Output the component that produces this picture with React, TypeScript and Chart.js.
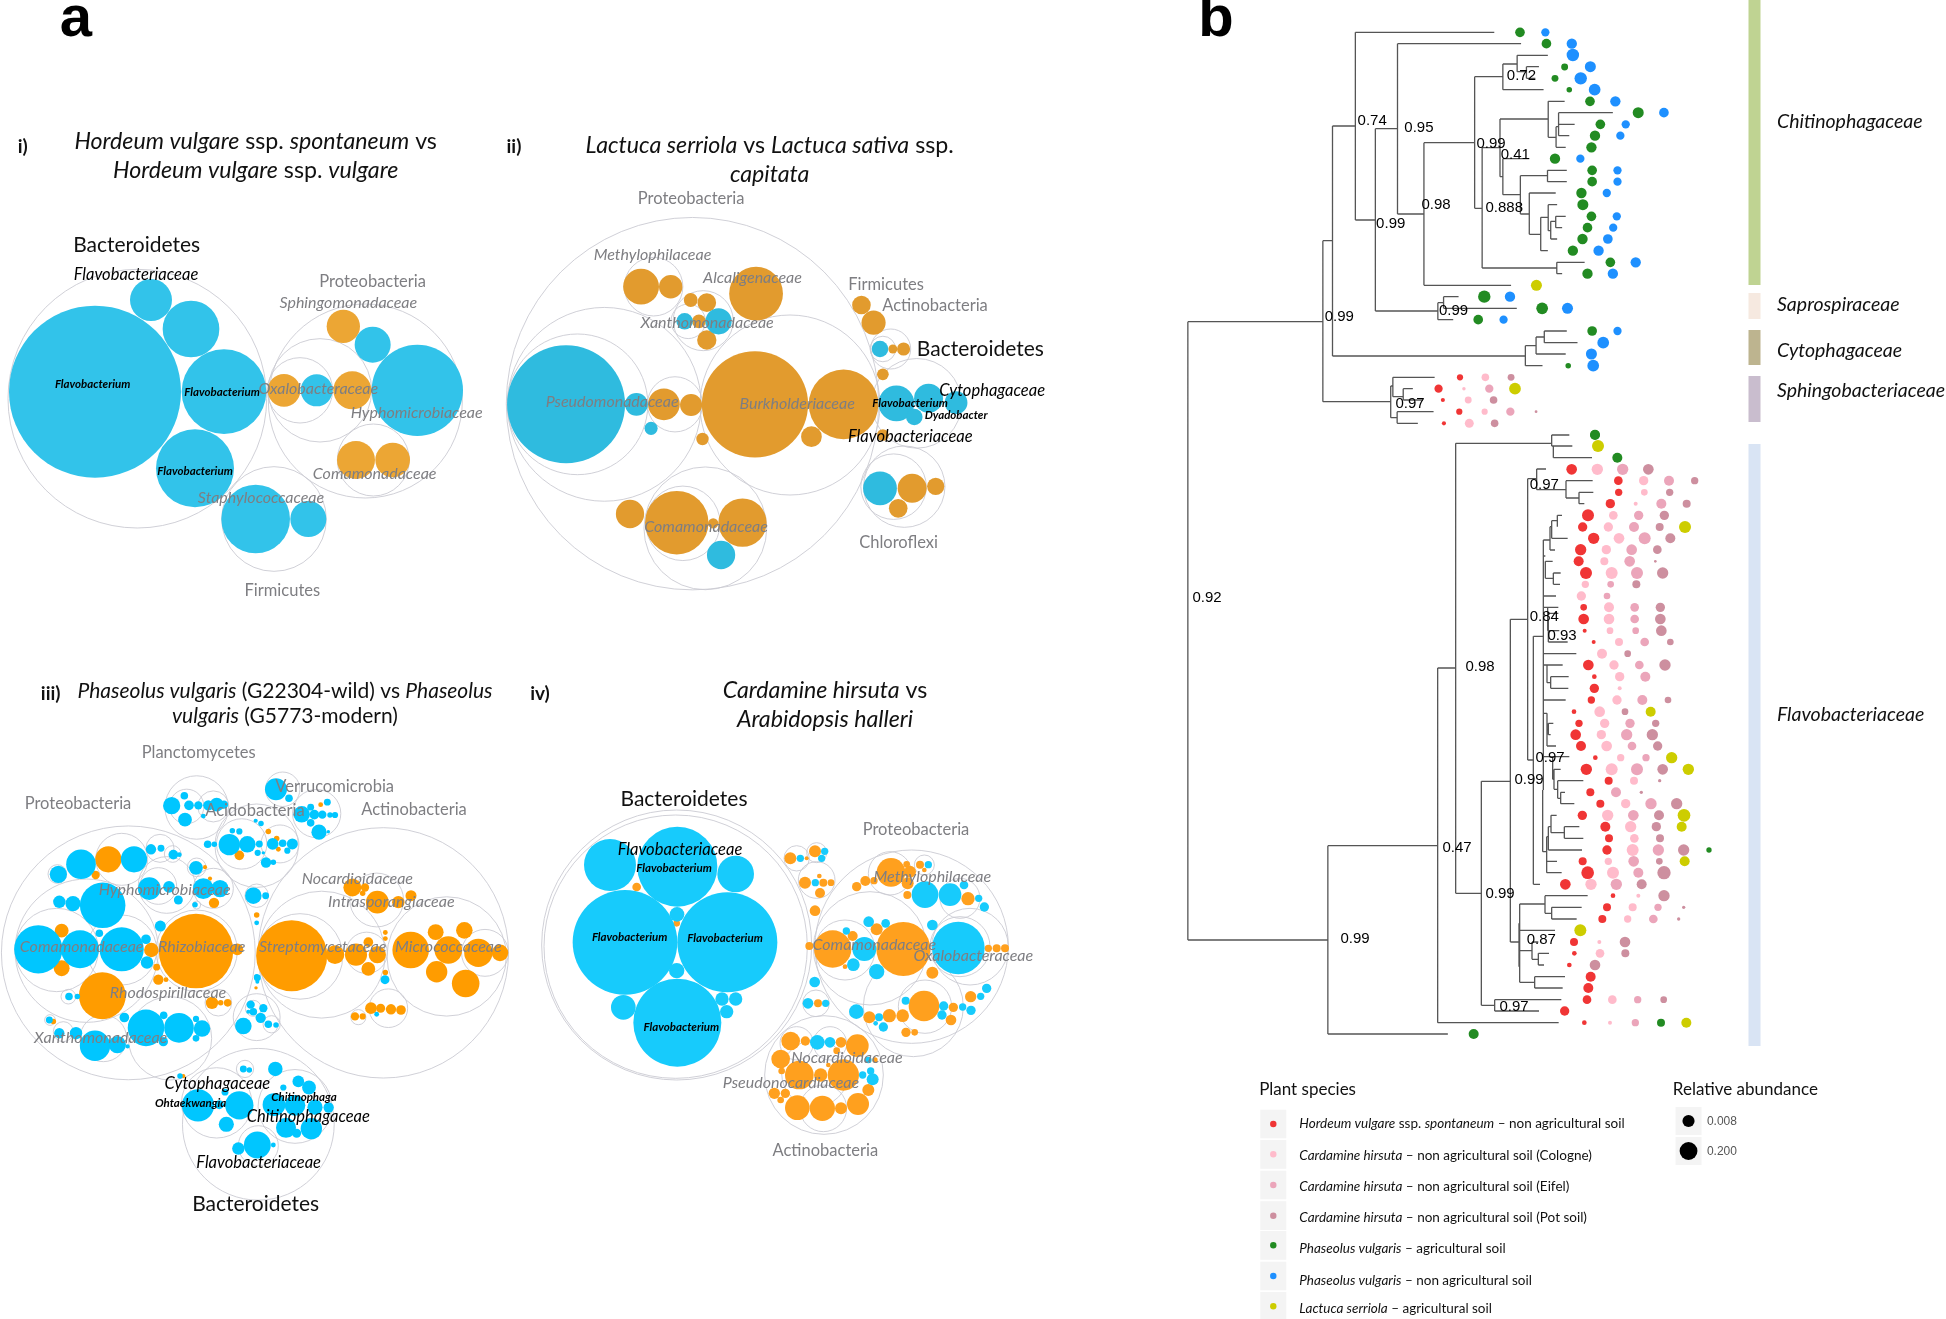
import React, { useEffect, useRef } from "react";
import { Chart, registerables } from "chart.js";

Chart.register(...registerables);

type Dot = [number, number, number];
type Part = string | [string, boolean];

// origin x, origin y, units per pixel in x, in y, for radii
const spaces: Record<string, [number, number, number, number, number]> = {
  p1: [0, 100, 3, 3, 3], p2: [490, 120, 2.8, 3, 2.9], p3: [0, 660, 3, 2.8, 2.9], q: [0, 780, 3, 3, 3], p4: [530, 660, 3, 3, 3],
  t: [1180, 0, 2.8, 3, 2.9], f: [1400, 430, 3, 3, 3], l: [1240, 1062, 2.613, 3, 2.8], full: [0, 0, 1, 1, 1],
};

// Panel i
const p1Blue: Dot[] = [[285,875,258],[453,600,63],[573,687,85],[672,875,127],[585,1105,117],[767,1257,103],[925,1257,54],[1118,734,54],[1252,871,137],[950,871,48]];
const p1Orange: Dot[] = [[1030,679,50],[852,871,49],[1057,871,57],[1068,1080,57],[1178,1080,52]];
const p1Ring: Dot[] = [[412,896,388],[1096,903,291],[960,871,155],[900,871,98],[1120,1080,108],[822,1257,157]];

// Panel ii
const p2Blue: Dot[] = [[213,853,171],[410,853,33],[451,925,19],[545,604,24],[640,604,38],[1092,687,24],[1138,850,52],[1228,835,42],[1305,848,33],[1188,891,24],[1092,1105,49],[647,1305,41]];
const p2Orange: Dot[] = [[423,500,52],[506,500,34],[562,540,20],[607,548,27],[745,521,78],[585,604,20],[607,660,28],[487,853,46],[563,855,32],[742,853,154],[990,853,101],[900,950,30],[595,957,18],[1040,555,27],[1074,608,35],[1128,687,13],[1158,687,19],[1100,763,17],[1100,945,17],[392,1182,41],[523,1208,92],[707,1208,70],[625,1210,15],[1182,1105,42],[1248,1099,25],[1143,1165,27]];
const p2Ring: Dot[] = [[567,851,540],[320,853,281],[245,853,204],[518,853,80],[840,855,261],[458,500,85],[597,602,87],[555,604,50],[603,1225,178],[540,1210,108],[1122,687,58],[1100,687,37],[1195,850,130],[1160,1100,118],[1130,1100,95]];

// Panel iii
const p3Blue: Dot[] = [[175,600,25],[243,572,43],[402,558,38],[453,530,15],[483,527,10],[520,545,14],[538,545,7],[588,582,20],[178,677,18],[219,682,22],[308,687,66],[448,640,33],[507,635,17],[535,672,13],[610,640,30],[660,640,25],[585,685,8],[115,810,70],[240,810,55],[365,810,64],[298,765,11],[438,782,14],[441,847,18],[207,942,11],[232,942,8],[438,1030,53],[537,1030,43],[606,1032,24],[373,1001,14],[491,995,11],[588,1005,9],[148,1008,10],[178,1045,15],[228,1045,18],[285,1080,44],[352,1077,25],[383,1082,6],[481,745,16],[760,660,24],[797,660,10],[515,408,25],[567,407,14],[595,407,12],[553,380,11],[555,447,20],[625,407,15],[650,405,20],[672,405,12],[610,437,7],[828,362,32],[867,387,11],[932,412,10],[982,398,10],[905,432,24],[943,433,14],[967,433,12],[990,434,8],[1005,434,9],[932,456,11],[957,482,22],[985,481,5],[623,516,11],[643,516,8],[688,517,31],[742,516,24],[718,480,9],[697,478,8],[778,515,10],[818,515,17],[848,513,11],[877,515,16],[773,540,9],[862,534,9],[798,567,15],[820,566,8],[783,458,8],[767,450,6],[790,540,5],[770,736,7],[772,890,10],[1155,895,13],[1130,992,7],[752,965,12],[760,985,11],[790,975,12],[782,1002,15],[805,1020,11],[828,1022,8],[730,1025,24],[745,985,6],[730,1145,10],[748,1148,8],[826,1145,21],[594,1247,47],[718,1247,41],[658,1245,13],[679,1300,22],[675,1210,10],[822,1245,33],[885,1247,30],[858,1310,29],[934,1312,31],[945,1252,22],[986,1253,15],[895,1180,17],[927,1197,20],[850,1197,9],[890,1325,13],[772,1358,39],[715,1368,18],[820,1358,7],[540,1165,8]];
const p3BlueLower: Dot[] = [[490,785,14],[588,775,10],[770,590,8],[772,605,6]];
const p3Orange: Dot[] = [[325,558,38],[287,602,12],[185,758,20],[185,863,23],[454,812,21],[307,940,68],[588,815,108],[642,680,15],[475,895,15],[498,895,7],[712,810,17],[636,960,18],[662,960,8],[683,960,11],[160,1012,8],[770,714,8],[615,580,6],[630,612,6],[718,547,14],[835,530,7],[805,480,8],[830,500,8],[1057,637,26],[1095,637,12],[1088,653,8],[1132,678,33],[1195,678,18],[1233,660,16],[875,828,103],[1005,825,27],[1068,825,32],[1105,790,14],[1132,825,25],[1105,865,20],[1156,763,7],[1156,780,7],[1156,875,8],[1232,812,53],[1345,812,40],[1307,762,23],[1393,757,24],[1310,873,31],[1397,906,40],[1435,820,41],[1500,820,24],[1113,975,17],[1142,975,13],[1173,978,15],[1203,980,14],[1065,998,12],[1088,998,9],[768,918,5],[962,405,7],[470,860,10],[550,1165,6]];
const p3Ring: Dot[] = [[385,820,368],[1150,820,363],[965,825,184],[900,830,124],[1340,830,173],[1455,820,68],[1100,820,60],[1130,672,78],[1165,975,56],[1075,1000,22],[590,413,92],[560,410,50],[640,410,45],[848,362,50],[950,430,70],[770,520,121],[725,515,73],[840,515,55],[770,1000,68],[775,1300,220],[650,1240,102],[885,1250,107],[775,1360,58],[770,660,34],[735,1145,25],[815,1020,25]];
const p3RingLower: Dot[] = [[260,512,215],[170,510,125],[365,510,105],[365,238,78],[480,205,42],[518,222,25],[172,282,28],[500,315,85],[475,318,55],[640,325,60],[590,512,122],[510,775,125],[310,775,70],[205,650,22],[655,668,40],[590,262,28],[590,375,12],[150,720,16],[190,755,30],[760,685,24]];

// Panel iv
const p4Blue: Dot[] = [[240,615,78],[442,620,120],[617,642,55],[285,847,157],[592,847,150],[441,763,22],[440,932,23],[442,1088,132],[280,1042,37],[576,1017,20],[617,1017,20],[590,1055,20],[811,595,11],[884,574,11],[875,595,11],[856,668,11],[854,966,16],[834,1030,16],[887,1030,11],[1185,704,40],[1260,704,34],[1195,614,11],[1302,675,13],[1346,715,11],[1363,741,14],[1016,785,16],[1067,790,13],[949,813,11],[1003,867,36],[970,914,19],[1040,935,23],[1207,795,16],[1285,864,79],[979,1055,22],[1047,1072,12],[1037,1090,7],[1060,1101,14],[1127,1022,12],[1241,1038,14],[1236,1065,14],[1298,1041,11],[1323,1051,14],[1352,1009,11],[1370,985,14],[862,1147,22],[900,1147,16],[1028,1258,18],[1022,1233,11],[998,1245,11],[1015,1200,10]];
const p4Orange: Dot[] = [[320,681,13],[440,790,10],[781,595,18],[855,574,18],[830,595,6],[825,668,18],[880,668,12],[903,668,10],[868,648,7],[870,699,15],[855,752,16],[838,858,12],[864,1030,12],[1083,637,43],[1130,613,10],[1170,614,12],[1183,630,7],[1133,670,18],[1140,635,18],[1032,662,11],[1006,663,15],[980,680,14],[1132,705,12],[1314,716,20],[908,867,56],[968,828,15],[1040,808,18],[945,920,7],[1120,867,81],[1207,938,18],[1375,865,11],[1400,865,12],[1425,865,12],[1182,1038,46],[1322,1010,17],[1270,1042,14],[1263,1080,16],[1118,1067,19],[1078,1067,20],[1018,1072,18],[1128,1117,14],[1154,1117,10],[782,1143,28],[826,1143,14],[933,1147,16],[982,1157,34],[752,1197,28],[920,1172,10],[808,1245,43],[872,1245,20],[940,1245,47],[895,1215,7],[755,1233,10],[733,1300,17],[766,1300,14],[752,1320,10],[802,1343,37],[877,1345,38],[933,1345,18],[984,1332,33],[1015,1290,18],[1035,1200,8]];
const p4Ring: Dot[] = [[437,860,395],[440,855,405],[800,595,38],[860,578,30],[860,660,55],[858,1030,40],[1145,860,290],[1020,865,170],[945,870,90],[1320,860,115],[1290,860,90],[1150,1040,150],[1185,1040,80],[1080,640,65],[1183,615,30],[1290,715,60],[882,1245,178],[800,1150,50],[900,1150,50],[855,1240,100],[880,1345,70]];

// Tree tips, upper clades
const topGreen: Dot[] = [[952,97,14],[1026,131,14],[1077,201,10],[1050,235,10],[1090,269,8],[1148,304,14],[1283,338,16],[1177,373,14],[1162,407,15],[1152,442,15],[1050,476,15],[1154,511,14],[1154,545,14],[1124,579,15],[1128,614,16],[1152,649,14],[1141,683,14],[1127,717,15],[1100,752,15],[1205,787,14],[1141,821,15],[852,890,18],[1014,925,17],[835,959,14],[1154,993,14],[1087,1097,8],[1162,1304,14]];
const topBlue: Dot[] = [[1023,97,12],[1097,131,15],[1100,165,18],[1149,200,16],[1122,235,18],[1161,269,17],[1219,304,15],[1355,338,14],[1248,373,12],[1233,407,12],[1121,476,12],[1225,511,12],[1225,545,12],[1195,579,12],[1223,649,12],[1213,683,12],[1198,717,14],[1172,752,15],[1276,787,15],[1212,821,15],[924,890,15],[1085,925,16],[906,959,12],[1225,993,12],[1185,1028,17],[1152,1062,16],[1157,1097,17]];
const topYellow: Dot[] = [[998,856,16],[938,1166,17]];
const topRed: Dot[] = [[784,1132,9],[724,1166,12],[736,1200,6],[782,1235,9],[739,1270,6]];
const topPink: Dot[] = [[855,1132,11],[795,1166,5],[807,1200,10],[853,1235,9],[810,1270,13]];
const topEifel: Dot[] = [[866,1166,12],[925,1235,12]];
const topPot: Dot[] = [[927,1132,10],[878,1200,11],[881,1270,11],[997,1235,4]];

// Tree tips, Flavobacteriaceae
const flavoRed: Dot[] = [[515,118,16],[655,152,13],[656,187,11],[631,221,14],[564,256,18],[548,291,14],[581,325,17],[542,359,17],[536,394,15],[558,429,18],[551,532,10],[551,567,16],[554,602,6],[581,636,6],[565,705,16],[583,740,7],[583,775,14],[574,810,11],[522,845,7],[537,880,11],[527,914,16],[543,948,15],[586,983,7],[559,1018,17],[626,1052,12],[571,1087,12],[601,1121,12],[547,1156,14],[616,1190,15],[627,1225,12],[621,1260,14],[548,1294,12],[563,1328,19],[496,1363,16],[639,1397,7],[621,1432,12],[607,1467,12],[522,1536,12],[523,1570,7],[508,1605,7],[572,1640,15],[565,1674,15],[561,1709,13],[494,1743,14],[553,1778,7]];
const flavoPink: Dot[] = [[592,118,17],[731,152,14],[733,187,10],[707,221,6],[640,256,13],[625,291,14],[657,325,16],[619,359,14],[613,394,12],[635,429,18],[556,463,11],[544,498,14],[627,532,15],[627,567,16],[630,602,10],[657,636,12],[606,671,15],[642,705,14],[659,740,14],[659,775,6],[651,810,14],[599,845,16],[614,880,14],[604,914,14],[620,948,16],[662,983,11],[635,1018,18],[702,1052,12],[677,1121,14],[623,1156,17],[692,1190,17],[703,1225,13],[698,1260,18],[625,1294,11],[639,1328,18],[573,1363,17],[715,1397,6],[698,1432,12],[683,1467,11],[598,1536,6],[600,1570,13],[637,1709,13],[630,1778,6]];
const flavoEifel: Dot[] = [[668,118,17],[807,152,15],[784,221,15],[716,256,14],[702,291,15],[734,325,18],[695,359,16],[689,394,16],[711,429,18],[632,463,10],[621,498,10],[704,532,13],[704,567,13],[707,602,10],[734,636,13],[718,705,13],[736,740,15],[727,810,15],[690,880,14],[680,914,17],[696,948,13],[738,983,11],[711,1018,18],[648,1087,15],[753,1121,17],[700,1156,16],[775,1260,17],[701,1294,16],[715,1328,15],[649,1363,17],[774,1432,11],[760,1467,13],[713,1709,11],[706,1778,11]];
const flavoPot: Dot[] = [[745,118,16],[884,152,11],[809,187,11],[860,221,12],[793,256,14],[779,291,12],[811,325,15],[772,359,13],[766,394,4],[788,429,17],[709,463,12],[781,532,14],[781,567,16],[784,602,16],[811,636,10],[683,671,10],[795,705,17],[804,810,10],[675,845,10],[767,880,11],[757,914,17],[773,948,14],[788,1018,16],[779,1052,5],[724,1087,5],[830,1121,17],[777,1156,15],[769,1190,14],[780,1225,12],[851,1260,17],[778,1294,10],[792,1328,20],[725,1363,15],[792,1397,17],[851,1432,5],[836,1467,5],[675,1536,16],[676,1570,12],[585,1605,16],[791,1709,10]];
const flavoYellow: Dot[] = [[594,48,18],[855,291,18],[752,845,15],[815,983,17],[865,1018,17],[852,1156,19],[845,1190,15],[854,1294,15],[541,1501,18],[859,1778,15]];
const flavoGreen: Dot[] = [[585,15,15],[652,83,15],[927,1260,8],[783,1778,12],[221,1812,15]];

// Tree branches: [x of the node, [y of a child, x where the child's branch ends], ...]
type Node = [number, ...[number, number][]];
const upperNodes: Node[] = [
  [22,[965,400],[2820,414]],[414,[2537,722],[3102,750]],
  [400,[722,427],[1205,590]],[427,[378,491],[1068,967]],[491,[97,880],[660,547]],[547,[386,609],[933,722]],
  [609,[131,955],[642,683]],[683,[428,825],[856,927]],[825,[230,904],[625,846]],[846,[443,896],[804,1055]],
  [904,[192,944],[269,1018]],[944,[166,1030],[215,970]],[970,[200,1005],[235,995]],[896,[357,1031],[530,904]],
  [1031,[304,1077],[412,1053]],[1053,[380,1060],[442,1080]],[1060,[338,1212],[373,1105],[407,1090]],
  [904,[476,978],[584,953]],[953,[527,1029],[642,978]],[1029,[511,1083],[545,1083]],[978,[579,1052],[703,1010]],
  [1010,[652,1031],[752,1030]],[1031,[614,1056],[692,1038]],[1038,[664,1052],[717,1056]],[1052,[649,1080],[683,1070]],
  [1055,[787,1133],[821,1070]],[722,[908,738],[959,765]],[738,[890,780],[925,943]],[967,[1037,997],[1097,1015]],
  [997,[1011,1020],[1062,1080]],[1020,[993,1083],[1028,1113]],[590,[1158,596],[1253,608]],[596,[1132,713],[1190,625]],
  [625,[1166,652],[1200,680]],[608,[1235,710],[1270,666]],
];
const flavoNodes: Node[] = [
  [113,[714,167],[1778,476]],[167,[40,455],[1390,244]],[455,[15,508],[48,517]],[460,[48,460],[83,576]],
  [244,[1054,331],[1726,284]],[331,[568,383],[1536,357]],[383,[146,410],[990,400]],[410,[117,438],[179,498]],
  [498,[152,578],[204,537]],[537,[187,580],[221,553]],[400,[619,430],[1363,420]],
  [430,[330,450],[378,436],[498,468],[532,443],[671,529],[705,441],[810,497],[850,441],[980,458],[1080,428]],
  [450,[290,455],[360,465]],[455,[272,472],[325,503]],[472,[256,486],[290,472]],[436,[394,458],[445,460]],
  [443,[532,475],[550,475],[602,478]],[445,[570,445],[636,503]],[460,[429,482],[463,480]],[441,[705,488],[758,452]],
  [452,[740,506],[775,505]],[441,[850,441],[900,445],[948,468]],[445,[880,460],[914,452]],
  [458,[980,508],[1048,462]],[462,[1018,482],[1078,473]],[473,[1052,550],[1105,482]],[482,[1087,495],[1121,523]],
  [428,[1080,428],[1265,440]],[440,[1220,445],[1294,471],[1328,485]],[445,[1190,453],[1260,546]],[453,[1156,470],[1208,493]],
  [493,[1190,538],[1225,550]],[359,[1422,435],[1501,465],[1562,396],[1657,404]],[357,[1480,359],[1610,357]],
  [435,[1397,563],[1450,455]],[455,[1432,545],[1467,530]],[396,[1536,415],[1588,415]],[415,[1570,447],[1605,432]],
  [404,[1640,495],[1674,488]],[284,[1709,484],[1743,417]],
];

// Family strips beside the tree
const familyNames = ["Chitinophagaceae", "Saprospiraceae", "Cytophagaceae", "Sphingobacteriaceae", "Flavobacteriaceae"];
const familyTop = [0, 293, 330, 376, 444];
const familyBottom = [285, 319, 365, 422, 1046];
const familyLabelY = [121, 304, 350, 390, 714];
const familyColors = ["#BFD392", "#F6E9E0", "#BDB48F", "#C9BDCE", "#D9E4F4"];

// Legend
const legendKeyY = [186, 277, 369, 461, 550, 642, 733];
const legendTextY = [181, 278, 371, 464, 558, 652, 738];
const legendColors = ["#F03535", "#FFBBCB", "#EBA5BA", "#CD8F9F", "#228B22", "#1E90FF", "#CDCD00"];
const legendText: Part[][] = [
  [["Hordeum vulgare", true], " ssp. ", ["spontaneum", true], " – non agricultural soil"],
  [["Cardamine hirsuta", true], " – non agricultural soil (Cologne)"],
  [["Cardamine hirsuta", true], " – non agricultural soil (Eifel)"],
  [["Cardamine hirsuta", true], " – non agricultural soil (Pot soil)"],
  [["Phaseolus vulgaris", true], " – agricultural soil"],
  [["Phaseolus vulgaris", true], " – non agricultural soil"],
  [["Lactuca serriola", true], " – agricultural soil"],
];
const abundanceKeys: Dot[] = [[1172,177,17],[1172,267,25]];
const abundanceLabels = ["0.008", "0.200"];

type Style = { font: string; color: string; align?: CanvasTextAlign; base?: CanvasTextBaseline };
const GRAY = "#7E7E82";
const styles: Record<string, Style> = {
  letter: { font: "bold 58px 'Liberation Sans'", color: "#000", base: "alphabetic" },
  roman: { font: "bold 19px Lato", color: "#111" },
  title: { font: "23.2px Lato", color: "#111" },
  titleWide: { font: "21px Lato", color: "#111" },
  phyBlack: { font: "21px Lato", color: "#111" },
  phyGray: { font: "16.5px Lato", color: GRAY },
  famGray: { font: "16px Lato", color: GRAY },
  famBlack: { font: "16.5px Lato", color: "#000" },
  genus: { font: "bold 11.5px Lato", color: "#000" },
  support: { font: "15px 'Liberation Sans'", color: "#000" },
  strip: { font: "19.5px Lato", color: "#111", align: "left" },
  head: { font: "17px Lato", color: "#111", align: "left" },
  leg: { font: "13.5px Lato", color: "#111", align: "left" },
  abund: { font: "12px 'Liberation Sans'", color: "#555", align: "left" },
};
type Lab = [string, string, number, number, Part[]];
const it = (s: string): Part[] => [[s, true]];

const panelLabels: Lab[] = [
  ["letter","full",76,36,["a"]],["letter","full",1216,36,["b"]],
  ["roman","p1",68,137,["i)"]],
  ["title","p1",767,123,[["Hordeum vulgare",true]," ssp. ",["spontaneum",true]," vs"]],
  ["title","p1",767,210,[["Hordeum vulgare",true]," ssp. ",["vulgare",true]]],
  ["phyBlack","p1",410,432,["Bacteroidetes"]],["famBlack","p1",408,520,it("Flavobacteriaceae")],
  ["phyGray","p1",1118,543,["Proteobacteria"]],["famGray","p1",1045,607,it("Sphingomonadaceae")],
  ["genus","p1",278,851,it("Flavobacterium")],["genus","p1",666,873,it("Flavobacterium")],["genus","p1",585,1111,it("Flavobacterium")],
  ["famGray","p1",955,865,it("Oxalobacteraceae")],["famGray","p1",1250,937,it("Hyphomicrobiaceae")],["famGray","p1",1124,1120,it("Comamonadaceae")],
  ["famGray","p1",783,1192,it("Staphylococcaceae")],["phyGray","p1",847,1470,["Firmicutes"]],

  ["roman","p2",67,77,["ii)"]],
  ["title","p2",783,75,[["Lactuca serriola",true]," vs ",["Lactuca sativa",true]," ssp."]],
  ["title","p2",783,162,it("capitata")],
  ["phyGray","p2",563,234,["Proteobacteria"]],["famGray","p2",455,401,it("Methylophilaceae")],["famGray","p2",735,470,it("Alcaligenaceae")],
  ["phyGray","p2",1109,492,["Firmicutes"]],["phyGray","p2",1246,553,["Actinobacteria"]],["famGray","p2",608,605,it("Xanthomonadaceae")],
  ["phyBlack","p2",1373,685,["Bacteroidetes"]],["famBlack","p2",1406,810,it("Cytophagaceae")],["genus","p2",1176,847,it("Flavobacterium")],
  ["genus","p2",1305,884,it("Dyadobacter")],["famGray","p2",342,843,it("Pseudomonadaceae")],["famGray","p2",860,848,it("Burkholderiaceae")],
  ["famBlack","p2",1177,946,it("Flavobacteriaceae")],["famGray","p2",605,1218,it("Comamonadaceae")],["phyGray","p2",1144,1264,["Chloroflexi"]],

  ["roman","p3",152,92,["iii)"]],
  ["titleWide","p3",855,84,[["Phaseolus vulgaris",true]," (G22304-wild) vs ",["Phaseolus",true]]],
  ["titleWide","p3",855,155,[["vulgaris",true]," (G5773-modern)"]],
  ["phyGray","p3",596,257,["Planctomycetes"]],["phyGray","p3",1004,352,["Verrucomicrobia"]],["phyGray","p3",765,420,["Acidobacteria"]],
  ["phyGray","p3",1242,416,["Actinobacteria"]],["phyGray","p3",234,400,["Proteobacteria"]],["famGray","p3",1072,610,it("Nocardioidaceae")],
  ["famGray","p3",1174,674,it("Intrasporangiaceae")],["famGray","p3",494,641,it("Hyphomicrobiaceae")],["famGray","p3",245,800,it("Comamonadaceae")],
  ["famGray","p3",605,800,it("Rhizobiaceae")],["famGray","p3",968,800,it("Streptomycetaceae")],["famGray","p3",1345,800,it("Micrococcaceae")],
  ["famGray","p3",504,929,it("Rhodospirillaceae")],["famGray","p3",302,1055,it("Xanthomonadaceae")],["famBlack","p3",652,1183,it("Cytophagaceae")],
  ["genus","p3",912,1221,it("Chitinophaga")],["genus","p3",572,1238,it("Ohtaekwangia")],["famBlack","p3",925,1277,it("Chitinophagaceae")],
  ["famBlack","p3",776,1406,it("Flavobacteriaceae")],["phyBlack","p3",767,1520,["Bacteroidetes"]],

  ["roman","p4",30,100,["iv)"]],
  ["title","p4",885,90,[["Cardamine hirsuta",true]," vs"]],["title","p4",885,177,it("Arabidopsis halleri")],
  ["phyBlack","p4",462,415,["Bacteroidetes"]],["phyGray","p4",1158,507,["Proteobacteria"]],["famBlack","p4",450,565,it("Flavobacteriaceae")],
  ["genus","p4",432,621,it("Flavobacterium")],["genus","p4",299,829,it("Flavobacterium")],["genus","p4",585,831,it("Flavobacterium")],["genus","p4",454,1098,it("Flavobacterium")],
  ["famGray","p4",1207,649,it("Methylophilaceae")],["famGray","p4",1033,853,it("Comamonadaceae")],["famGray","p4",1330,886,it("Oxalobacteraceae")],
  ["famGray","p4",951,1192,it("Nocardioidaceae")],["famGray","p4",783,1265,it("Pseudonocardiaceae")],["phyGray","p4",886,1469,["Actinobacteria"]],
];
const supportLabels: Lab[] = [
  ["support","t",956,226,["0.72"]],["support","t",538,361,["0.74"]],["support","t",669,381,["0.95"]],["support","t",871,430,["0.99"]],
  ["support","t",939,463,["0.41"]],["support","t",717,612,["0.98"]],["support","t",908,622,["0.888"]],["support","t",590,668,["0.99"]],
  ["support","t",766,931,["0.99"]],["support","t",446,947,["0.99"]],["support","t",644,1209,["0.97"]],
  ["support","f",433,162,["0.97"]],["support","f",433,557,["0.84"]],["support","f",486,615,["0.93"]],["support","f",240,708,["0.98"]],
  ["support","f",450,980,["0.97"]],["support","f",387,1048,["0.99"]],["support","f",171,1252,["0.47"]],["support","f",300,1388,["0.99"]],
  ["support","f",424,1526,["0.87"]],["support","f",342,1729,["0.97"]],
  ["support","full",1207,597,["0.92"]],["support","full",1355,938,["0.99"]],
];

const px = (sp: string, x: number) => spaces[sp][0] + x / spaces[sp][2];
const py = (sp: string, y: number) => spaces[sp][1] + y / spaces[sp][3];
const dots = (sp: string, list: Dot[]) => list.map(([x, y, r]) => ({ x: px(sp, x), y: py(sp, y), r: r / spaces[sp][4] }));
const bubble = (data: any[], fill: string) => ({ type: "bubble", data, backgroundColor: fill, borderWidth: 0, hoverRadius: 0 });
const ring = (sp: string, list: Dot[]) => ({ type: "bubble", data: dots(sp, list), backgroundColor: "rgba(0,0,0,0)", borderColor: "#CBCBD3", borderWidth: 0.9, hoverRadius: 0 });
const branches = (sp: string, nodes: Node[]) => {
  const out: any[] = [];
  const gap = { x: 0, y: null };
  for (const [x, ...kids] of nodes) {
    const ys = kids.map((k) => k[0]);
    out.push({ x: px(sp, x), y: py(sp, Math.min(...ys)) }, { x: px(sp, x), y: py(sp, Math.max(...ys)) }, gap);
    for (const [y, end] of kids) out.push({ x: px(sp, x), y: py(sp, y) }, { x: px(sp, end), y: py(sp, y) }, gap);
  }
  return out;
};
const lineSet = (data: any[], color: string, width: number) => ({
  type: "line", data, borderColor: color, borderWidth: width, pointRadius: 0, spanGaps: false, borderCapStyle: "butt", tension: 0, fill: false,
});

const textPlugin = {
  id: "figureText",
  afterDatasetsDraw(chart: any) {
    const { ctx, scales } = chart;
    const draw = (style: string, sx: number, sy: number, parts: Part[]) => {
      const st = styles[style];
      ctx.save();
      ctx.fillStyle = st.color;
      ctx.textBaseline = st.base || "middle";
      ctx.textAlign = "left";
      const fontOf = (p: Part) => (Array.isArray(p) ? "italic " + st.font : st.font);
      const textOf = (p: Part) => (Array.isArray(p) ? p[0] : p);
      let total = 0;
      for (const p of parts) { ctx.font = fontOf(p); total += ctx.measureText(textOf(p)).width; }
      let cx = scales.x.getPixelForValue(sx);
      const cy = scales.y.getPixelForValue(sy) + (st.base ? 0 : 1);
      if ((st.align || "center") === "center") cx -= total / 2;
      for (const p of parts) { ctx.font = fontOf(p); ctx.fillText(textOf(p), cx, cy); cx += ctx.measureText(textOf(p)).width; }
      ctx.restore();
    };
    for (const [st, sp, x, y, parts] of [...panelLabels, ...supportLabels]) draw(st, px(sp, x), py(sp, y), parts);
    familyNames.forEach((n, i) => draw("strip", 1777, familyLabelY[i], [[n, true]]));
    legendText.forEach((parts, i) => draw("leg", px("l", 155), py("l", legendTextY[i]), parts));
    draw("head", px("l", 50), py("l", 80), ["Plant species"]);
    draw("head", px("l", 1131), py("l", 80), ["Relative abundance"]);
    abundanceLabels.forEach((t, i) => draw("abund", px("l", 1220), py("l", abundanceKeys[i][1]), [t]));
  },
};

export default function App() {
  const ref = useRef<HTMLCanvasElement>(null);
  useEffect(() => {
    const [blue1, orange1] = ["#32C3EA", "#ECA634"];
    const [blue2, orange2] = ["#2FBBDF", "#E29B2E"];
    const [blue3, orange3] = ["#00C6FF", "#FF9C00"];
    const [blue4, orange4] = ["#17CBFC", "#FFA01E"];
    const keyBg: any[] = [];
    for (const y of legendKeyY) keyBg.push({ x: px("l", 87), y: py("l", y - 43) }, { x: px("l", 87), y: py("l", y + 43) }, { x: 0, y: null });
    for (const k of abundanceKeys) keyBg.push({ x: px("l", k[0]), y: py("l", k[1] - 42) }, { x: px("l", k[0]), y: py("l", k[1] + 42) }, { x: 0, y: null });
    const datasets: any[] = [
      bubble(dots("l", abundanceKeys), "#000"),
      ...legendColors.map((c, i) => bubble(dots("l", [[87, legendKeyY[i], 9]]), c)),
      lineSet(keyBg, "#F4F4F4", 26),
      bubble(dots("t", topGreen), "#228B22"),
      bubble(dots("t", topBlue), "#1E90FF"),
      bubble(dots("t", topYellow), "#CDCD00"),
      bubble(dots("t", topRed), "#F03535"),
      bubble(dots("t", topPink), "#FFBBCB"),
      bubble(dots("t", topEifel), "#EBA5BA"),
      bubble(dots("t", topPot), "#CD8F9F"),
      bubble(dots("f", flavoGreen), "#228B22"),
      bubble(dots("f", flavoYellow), "#CDCD00"),
      bubble(dots("f", flavoRed), "#F03535"),
      bubble(dots("f", flavoPink), "#FFBBCB"),
      bubble(dots("f", flavoEifel), "#EBA5BA"),
      bubble(dots("f", flavoPot), "#CD8F9F"),
      lineSet(branches("t", upperNodes), "#555", 1.3),
      lineSet(branches("f", flavoNodes), "#555", 1.3),
      ...familyNames.map((_, i) => lineSet([{ x: 1754.5, y: familyTop[i] }, { x: 1754.5, y: familyBottom[i] }], familyColors[i], 12)),
      bubble(dots("p1", p1Blue), blue1), bubble(dots("p1", p1Orange), orange1), ring("p1", p1Ring),
      bubble(dots("p2", p2Blue), blue2), bubble(dots("p2", p2Orange), orange2), ring("p2", p2Ring),
      bubble(dots("p3", p3Blue), blue3), bubble(dots("q", p3BlueLower), blue3), bubble(dots("p3", p3Orange), orange3), ring("p3", p3Ring), ring("q", p3RingLower),
      bubble(dots("p4", p4Blue), blue4), bubble(dots("p4", p4Orange), orange4), ring("p4", p4Ring),
    ];
    const chart = new Chart(ref.current as HTMLCanvasElement, {
      type: "bubble",
      data: { datasets },
      plugins: [textPlugin],
      options: {
        animation: false,
        responsive: false,
        devicePixelRatio: 1,
        events: [],
        layout: { padding: 0, autoPadding: false },
        plugins: { legend: { display: false }, tooltip: { enabled: false } },
        scales: {
          x: { type: "linear", display: false, min: 0, max: 1946 },
          y: { type: "linear", display: false, min: 0, max: 1319, reverse: true },
        },
      },
    } as any);
    return () => chart.destroy();
  }, []);
  return (
    <div style={{ position: "absolute", left: 0, top: 0, width: 1946, height: 1319, background: "#fff" }}>
      <canvas ref={ref} width={1946} height={1319} style={{ display: "block" }} />
    </div>
  );
}
